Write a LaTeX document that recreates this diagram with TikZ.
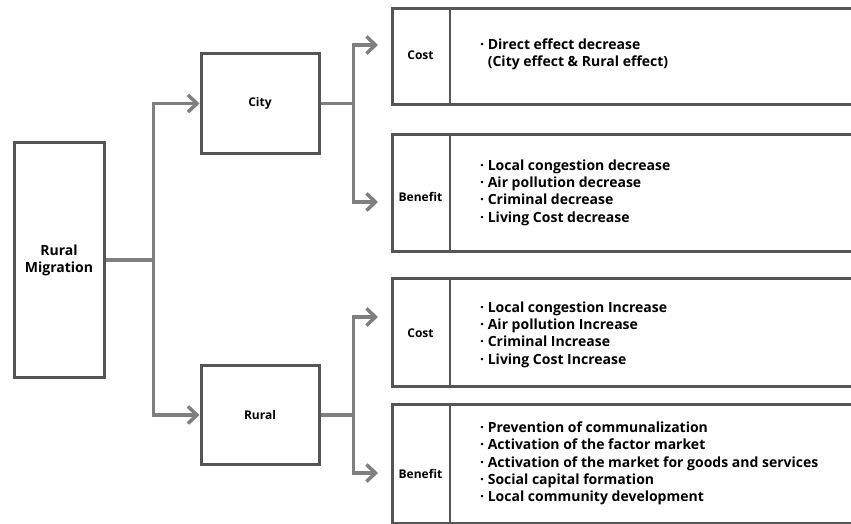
\documentclass[tikz,border=0pt]{standalone}
\usepackage{fontspec}
\setmainfont{Open Sans}
\usetikzlibrary{arrows.meta,calc}
\definecolor{boxline}{HTML}{555555}
\definecolor{connline}{HTML}{7F7F7F}
\tikzset{
  mainbox/.style={draw=boxline, line width=3pt, rectangle, inner sep=0pt,
    font=\fontsize{12}{17}\selectfont\bfseries, align=center},
  catbox/.style={draw=boxline, line width=2.6pt, rectangle, inner sep=0pt, anchor=north west},
  catlabel/.style={inner sep=0pt, font=\fontsize{12}{15}\selectfont\bfseries},
  itemtext/.style={inner sep=0pt, anchor=west, align=left,
    font=\fontsize{14}{17.3}\selectfont\bfseries},
  conn/.style={draw=connline, line width=3.5pt},
  arr/.style={conn, -{Straight Barb[length=9pt,width=17pt,line width=3.5pt]}},
}
\begin{document}
\begin{tikzpicture}[x=1pt,y=-1pt]
\useasboundingbox (0,0) rectangle (851,524);
\clip (0,0) rectangle (851,524);

% left box
\node[mainbox, minimum width=90pt, minimum height=235pt, font=\fontsize{14}{17}\selectfont\bfseries] (rm) at (59,260) {Rural\\Migration};
% city / rural
\node[mainbox, minimum width=118pt, minimum height=99pt] (city) at (260,103.5) {City};
\node[mainbox, minimum width=118pt, minimum height=99pt] (rural) at (260,415) {Rural};

% right boxes
\node[catbox, minimum width=475pt, minimum height=96pt] (costA) at (391,7) {};
\node[catbox, minimum width=475pt, minimum height=117pt] (benA) at (391,133) {};
\node[catbox, minimum width=475pt, minimum height=108pt] (costB) at (391,277) {};
\node[catbox, minimum width=475pt, minimum height=119pt] (benB) at (391,403) {};

% dividers
\foreach \b in {costA,benA,costB,benB}{
  \draw[boxline, line width=2pt] ($(\b.north west)+(59,0)$) -- ($(\b.south west)+(59,0)$);
}

% category labels
\node[catlabel] (costAl) at (420.5,55) {Cost};
\node[catlabel] (benAl) at (420.5,197) {Benefit};
\node[catlabel] (costBl) at (420.5,333) {Cost};
\node[catlabel] (benBl) at (420.5,474) {Benefit};

% item texts
\node[itemtext] (costAt) at (480,54.5) {·\ Direct effect decrease\\\hphantom{·\ }(City effect \& Rural effect)};
\node[itemtext] (benAt) at (480,192.5) {·\ Local congestion decrease\\·\ Air pollution decrease\\·\ Criminal decrease\\·\ Living Cost decrease};
\node[itemtext] (costBt) at (480,334.5) {·\ Local congestion Increase\\·\ Air pollution Increase\\·\ Criminal Increase\\·\ Living Cost Increase};
\node[itemtext] (benBt) at (480,463.5) {·\ Prevention of communalization\\·\ Activation of the factor market\\·\ Activation of the market for goods and services\\·\ Social capital formation\\·\ Local community development};

% arrow end points
\coordinate (eCostA) at (378,45);
\coordinate (eBenA) at (378,202);
\coordinate (eCostB) at (378,317);
\coordinate (eBenB) at (378,473);

% connectors
\draw[arr] (rm.east) -- ++(48,0) |- (city.west);
\draw[arr] (rm.east) -- ++(48,0) |- (rural.west);
\draw[conn] (city.east) -- ++(33,0) coordinate (cj);
\draw[arr] (cj) |- (eCostA);
\draw[arr] (cj) |- (eBenA);
\draw[conn] (rural.east) -- ++(33,0) coordinate (rj);
\draw[arr] (rj) |- (eCostB);
\draw[arr] (rj) |- (eBenB);
\end{tikzpicture}
\end{document}
